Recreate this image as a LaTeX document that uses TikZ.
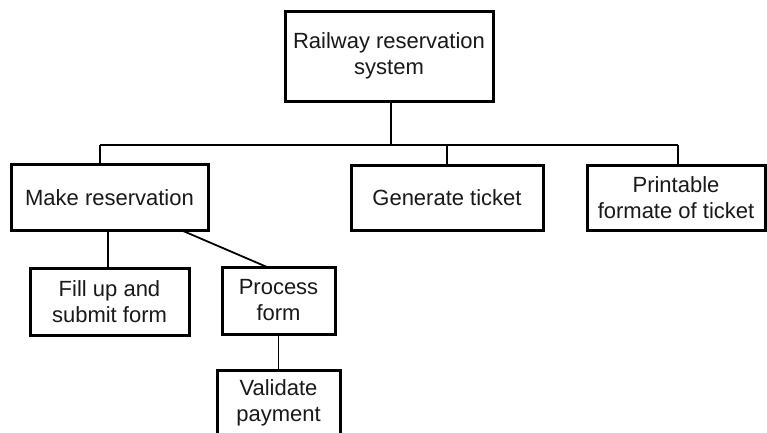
\documentclass[tikz,border=0pt]{standalone}
\usepackage{fontspec}
\setmainfont{Liberation Sans}
\begin{document}
\begin{tikzpicture}[x=1pt,y=-1pt,
  box/.style={draw=black, line width=3pt, fill=white, align=center,
    inner sep=0pt, font=\fontsize{22}{26}\selectfont, text=black!90},
  link/.style={draw=black, line width=1.8pt}]
\useasboundingbox[fill=white] (0,0) rectangle (767,432);
\clip (0,0) rectangle (767,432);

% boxes
\node[box, minimum width=208pt, minimum height=90pt] (root) at (389,56) {Railway reservation\\system};
\node[box, minimum width=197pt, minimum height=66pt] (make) at (109.5,197.5) {Make reservation};
\node[box, minimum width=192pt, minimum height=65pt] (gen) at (447,197.5) {Generate ticket};
\node[box, minimum width=178pt, minimum height=65pt] (print) at (676,197.5) {Printable\\formate of ticket};
\node[box, minimum width=159pt, minimum height=67pt] (fill) at (109.5,301.5) {Fill up and\\submit form};
\node[box, minimum width=113pt, minimum height=67pt] (proc) at (278.5,300.5) {Process\\form};
\node[box, minimum width=123pt, minimum height=66pt] (valid) at (278.5,403) {Validate\\payment};

% bus junctions
\coordinate (hub) at (391,145);
\coordinate (busL) at (100,145);
\coordinate (busG) at (447,145);
\coordinate (busR) at (678,145);

% connectors
\draw[link] ([yshift=1.5pt]root.south -| hub) -- (hub);
\draw[link] (busL) -- (busR);
\draw[link] (busL) -- ([yshift=-1.5pt]busL |- make.north);
\draw[link] (busG) -- ([yshift=-1.5pt]gen.north);
\draw[link] (busR) -- ([yshift=-1.5pt]busR |- print.north);
\draw[link] ([xshift=-1.5pt,yshift=-1.5pt]fill.north) -- ([xshift=-1.5pt,yshift=1.5pt]fill.north |- make.south);
\draw[link] ([xshift=72.5pt,yshift=1.5pt]make.south) -- ([xshift=-11.5pt,yshift=-1.5pt]proc.north);
\draw[link] ([yshift=1.5pt]proc.south) -- ([yshift=-1.5pt]valid.north);
\end{tikzpicture}
\end{document}
